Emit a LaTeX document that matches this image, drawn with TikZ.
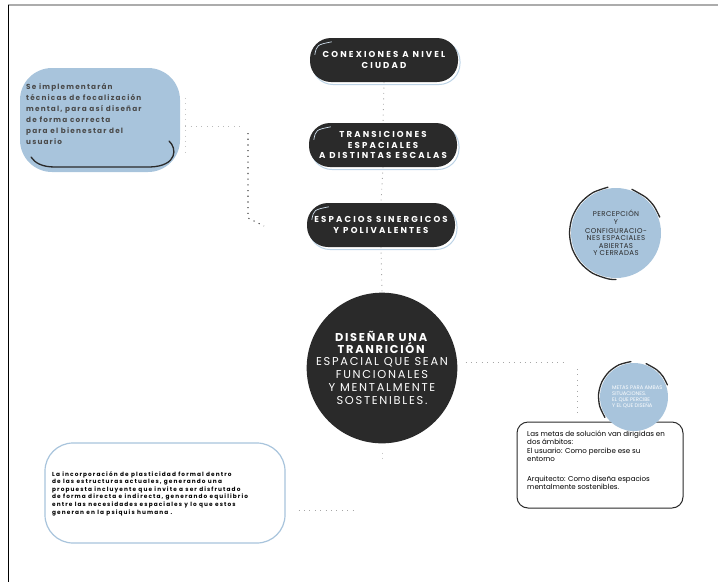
\documentclass[tikz,border=0pt]{standalone}
\usepackage{fontspec}
\setmainfont{Poppins}
\newfontfamily\hdfont[LetterSpace=25]{Poppins}
\newfontfamily\ctfontb[LetterSpace=15]{Poppins}
\newfontfamily\blfont[LetterSpace=16]{Poppins}
\newfontfamily\smfont[LetterSpace=19]{Poppins}
\newfontfamily\pcfont[LetterSpace=6]{Poppins}
\newfontfamily\rgfont{Poppins}
\usetikzlibrary{calc,shadows}
\definecolor{darkc}{HTML}{2A2A2A}
\definecolor{bluec}{HTML}{A8C4DC}
\definecolor{shblue}{HTML}{BCD3E6}
\definecolor{txtgray}{HTML}{4A4A4A}
\tikzset{
  darkbox/.style={fill=darkc, rounded corners=21pt, minimum width=148pt, minimum height=44pt,
    text=white, align=center, inner sep=0pt,
    font=\hdfont\bfseries\fontsize{8.6}{10.8}\selectfont,
    drop shadow={opacity=1, fill=white, draw=shblue, line width=1pt, shadow xshift=2pt, shadow yshift=-2.5pt}},
  hl/.style={draw=shblue!70!white, line width=0.7pt},
  dots/.style={draw=gray!70, line width=0.9pt, dash pattern=on 0.9pt off 4.5pt},
  darkdots/.style={draw=black!75, line width=1.1pt, dash pattern=on 1.1pt off 4.6pt},
  arcline/.style={draw=darkc, line width=1.3pt, line join=round, line cap=round},
}
\begin{document}
\begin{tikzpicture}[x=1pt,y=-1pt]
\useasboundingbox (0,0) rectangle (718,582);
% frame
\draw[gray!65, line width=2pt] (8,5) -- (718,5);
\draw[black, line width=0.9pt] (8,4.5) -- (8,582);

% left blob
\node[fill=bluec, rounded corners=32pt, minimum width=160pt, minimum height=104pt, inner sep=0pt] (blob) at (100,120) {};
\node[anchor=north west, align=left, text=txtgray, inner sep=0pt,
  font=\blfont\bfseries\fontsize{7.3}{11}\selectfont] (blobtext) at (26,83)
  {Se implementarán\\técnicas de focalización\\mental, para así diseñar\\de forma correcta\\para el bienestar del\\usuario};
\draw[arcline] (169,141) .. controls (177,148) and (178,166) .. (150,167) -- (55,167)
  .. controls (42,167) and (35,163) .. (31,157);

% dark boxes
\node[darkbox] (n1) at (384,60) {CONEXIONES A NIVEL\\CIUDAD};
\node[darkbox] (n2) at (383,145) {TRANSICIONES\\ESPACIALES\\A DISTINTAS ESCALAS};
\node[darkbox] (n3) at (381,225) {ESPACIOS SINERGICOS\\Y POLIVALENTES};
\foreach \n in {n1,n2,n3}{
  \draw[hl] ($(\n.north west)+(5,17)$) .. controls ($(\n.north west)+(7,7)$) .. ($(\n.north west)+(22,4)$);
}

% central circle
\node[circle, fill=darkc, minimum size=138pt, inner sep=0pt, text=white, align=center,
  font=\ctfontb\fontsize{11.4}{14}\selectfont] (c) at (382,368)
  {\textbf{DISEÑAR UNA}\\[-1.5pt]\textbf{TRANRICIÓN}\\[-2.5pt]ESPACIAL QUE SEAN\\[-0.8pt]FUNCIONALES\\[-0.8pt]Y MENTALMENTE\\[-0.8pt]SOSTENIBLES.};

% percepcion circle
\node[circle, fill=bluec, minimum size=90pt, inner sep=0pt, text=darkc, align=center,
  font=\pcfont\fontsize{7}{7.4}\selectfont] (p) at (616,233)
  {PERCEPCIÓN\\Y\\[1.5pt]CONFIGURACIO-\\NES ESPACIALES\\ABIERTAS\\Y CERRADAS};
\draw[arcline] plot[smooth] coordinates {(607.9,187.2) (592.75,192.7) (580.4,203.1) (572.3,217.1) (569.5,233) (572.3,248.9) (580.4,262.9) (592.75,273.3) (607.9,278.8) (616,279.5)};
\draw[arcline] plot[smooth] coordinates {(659.7,217.1) (654.1,206.3) (645.9,197.4) (631.9,189.3)};

% dotted connectors top
\draw[dots] (n1.south) -- (n2.north);
\draw[dots] (n2.south) -- (n3.north);
\draw[dots] (n3.south) -- (c.north);
\coordinate (bl1) at (243,126);
\coordinate (bl2) at (248,133);
\coordinate (bl3) at (248,218);
\coordinate (bl4) at (264,226);
\draw[dots, draw=gray!45] ($(blob.north east)+(5,30)$) -- ($(blob.south east)+(5,-20)$);
\draw[dots, draw=gray!55] ($(blob.east)+(5,6)$) -- (bl1);
\draw[darkdots] (bl2) -- (bl3) -- (bl4);

% right connector from center
\coordinate (r1) at (568,362);
\coordinate (r2) at (577,369);
\coordinate (r3) at (577,414);
\draw[dots] (c.east |- r1) ++(8,0) -- (r1);
\draw[dots] (r2) -- (r3);
\coordinate (cb) at (382,458);
\draw[dots, draw=gray!45] ($(c.south)+(0,9)$) -- (cb);

% bottom right box
\node[draw=darkc, line width=1pt, fill=white, rounded corners=11pt, minimum width=166pt, minimum height=86pt, inner sep=0pt] (box) at (600,465) {};
\node[anchor=north west, align=left, inner sep=0pt, text=black,
  font=\rgfont\fontsize{7.1}{8.1}\selectfont] (boxtext) at (527,431)
  {Las metas de solución van dirigidas en\\dos ámbitos:\\El usuario: Como percibe ese su\\entorno\\[12pt]Arquitecto: Como diseña espacios\\mentalmente sostenibles.};

% small circle
\node[circle, fill=bluec, minimum size=68pt, inner sep=0pt] (s) at (634,397) {};
\node[anchor=north west, align=left, inner sep=0pt, text=white,
  font=\rgfont\fontsize{5.2}{6}\selectfont] (stext) at (612,386)
  {METAS PARA AMBAS\\SITUACIONES.\\EL QUE PERCIBE\\Y EL QUE DISEÑA};
\draw[arcline] plot[smooth] coordinates {(630.9,361.6) (619.0,364.8) (608.9,371.9) (601.8,382.0) (598.6,393.9) (599.7,406.2) (604.9,417.4)};
\draw[arcline] plot[smooth] coordinates {(667.4,384.9) (663.1,376.6) (656.8,369.8) (646.1,363.6)};

% bottom left box
\node[draw=bluec, line width=1.2pt, fill=white, rounded corners=28pt, minimum width=240pt, minimum height=100pt, inner sep=0pt] (bb) at (165,493) {};
\node[anchor=north west, align=left, inner sep=0pt, text=black,
  font=\smfont\bfseries\fontsize{5.8}{7.6}\selectfont] (bbtext) at (52,471)
  {La incorporación de plasticidad formal dentro\\de las estructuras actuales, generando una\\propuesta incluyente que invite a ser disfrutado\\de forma directa e indirecta, generando equilibrio\\entre las necesidades espaciales y lo que estos\\generan en la psiquis humana .};
\coordinate (be) at (357,510);
\draw[dots] ($(bb.east |- be)+(13,0)$) -- (be);
\end{tikzpicture}
\end{document}
